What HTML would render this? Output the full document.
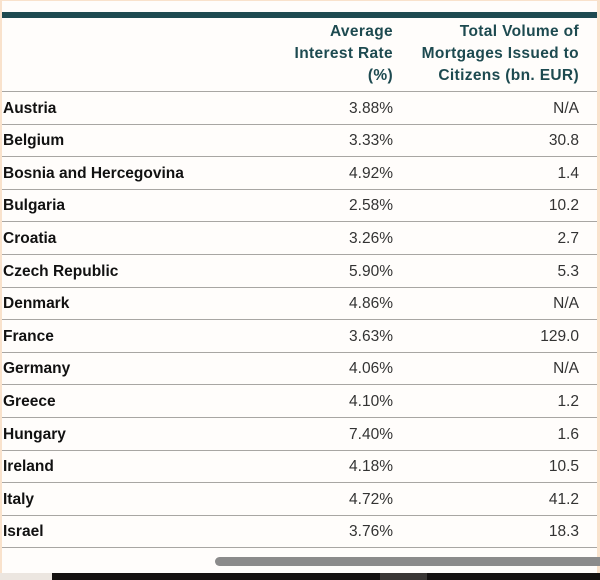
<!DOCTYPE html>
<html>
<head>
<meta charset="utf-8">
<style>
  html, body { margin: 0; padding: 0; }
  body {
    width: 600px; height: 580px; position: relative; overflow: hidden;
    background: #f9e2cc;
    font-family: "Liberation Sans", "DejaVu Sans", sans-serif;
  }
  .panel {
    position: absolute; left: 2px; top: 1px; width: 595px; height: 579px;
    background: #fffdfb;
  }
  .topbar {
    position: absolute; left: 2px; top: 12px; width: 595px; height: 6px;
    background: #1e4a50;
  }
  .hline {
    position: absolute; left: 2px; width: 595px; height: 1px;
    background: #a8a6a3;
  }
  .hdr {
    position: absolute; top: 20.6px; font-size: 15.5px; line-height: 22px;
    font-weight: bold; color: #1d4a50; text-align: right; letter-spacing: 0.35px;
    white-space: nowrap;
  }
  .row { position: absolute; left: 0; width: 600px; height: 20px; line-height: 20px; font-size: 15.5px; }
  .name { position: absolute; left: 3px; font-weight: bold; color: #111; white-space: nowrap; }
  .c1 { position: absolute; right: 207px; color: #333; }
  .c2 { position: absolute; right: 21px; color: #333; }
  .scroll {
    position: absolute; left: 215px; top: 557px; width: 390px; height: 9px;
    border-radius: 5px; background: #8b8b8b;
  }
  .bot-l { position: absolute; left: 0; top: 573px; width: 52px; height: 7px; background: #ece6e0; }
  .bot-b { position: absolute; left: 52px; top: 573px; width: 548px; height: 7px; background: #141110; }
  .bot-g { position: absolute; left: 380px; top: 573px; width: 47px; height: 7px; background: #3a3634; }
</style>
</head>
<body>
<div class="panel"></div>
<div class="topbar"></div>

<div class="hdr" style="right:207px;">Average<br>Interest Rate<br>(%)</div>
<div class="hdr" style="right:21px;">Total Volume of<br>Mortgages Issued to<br>Citizens (bn. EUR)</div>

<div class="hline" style="top:91px"></div>
<div class="hline" style="top:124px"></div>
<div class="hline" style="top:156px"></div>
<div class="hline" style="top:189px"></div>
<div class="hline" style="top:221px"></div>
<div class="hline" style="top:254px"></div>
<div class="hline" style="top:287px"></div>
<div class="hline" style="top:319px"></div>
<div class="hline" style="top:352px"></div>
<div class="hline" style="top:384px"></div>
<div class="hline" style="top:417px"></div>
<div class="hline" style="top:450px"></div>
<div class="hline" style="top:482px"></div>
<div class="hline" style="top:515px"></div>
<div class="hline" style="top:547px"></div>

<div class="row" style="top:99px"><span class="name">Austria</span><span class="c1">3.88%</span><span class="c2">N/A</span></div>
<div class="row" style="top:131px"><span class="name">Belgium</span><span class="c1">3.33%</span><span class="c2">30.8</span></div>
<div class="row" style="top:164px"><span class="name">Bosnia and Hercegovina</span><span class="c1">4.92%</span><span class="c2">1.4</span></div>
<div class="row" style="top:196px"><span class="name">Bulgaria</span><span class="c1">2.58%</span><span class="c2">10.2</span></div>
<div class="row" style="top:229px"><span class="name">Croatia</span><span class="c1">3.26%</span><span class="c2">2.7</span></div>
<div class="row" style="top:262px"><span class="name">Czech Republic</span><span class="c1">5.90%</span><span class="c2">5.3</span></div>
<div class="row" style="top:294px"><span class="name">Denmark</span><span class="c1">4.86%</span><span class="c2">N/A</span></div>
<div class="row" style="top:327px"><span class="name">France</span><span class="c1">3.63%</span><span class="c2">129.0</span></div>
<div class="row" style="top:359px"><span class="name">Germany</span><span class="c1">4.06%</span><span class="c2">N/A</span></div>
<div class="row" style="top:392px"><span class="name">Greece</span><span class="c1">4.10%</span><span class="c2">1.2</span></div>
<div class="row" style="top:425px"><span class="name">Hungary</span><span class="c1">7.40%</span><span class="c2">1.6</span></div>
<div class="row" style="top:457px"><span class="name">Ireland</span><span class="c1">4.18%</span><span class="c2">10.5</span></div>
<div class="row" style="top:490px"><span class="name">Italy</span><span class="c1">4.72%</span><span class="c2">41.2</span></div>
<div class="row" style="top:522px"><span class="name">Israel</span><span class="c1">3.76%</span><span class="c2">18.3</span></div>

<div class="scroll"></div>
<div class="bot-l"></div>
<div class="bot-b"></div>
<div class="bot-g"></div>
</body>
</html>
